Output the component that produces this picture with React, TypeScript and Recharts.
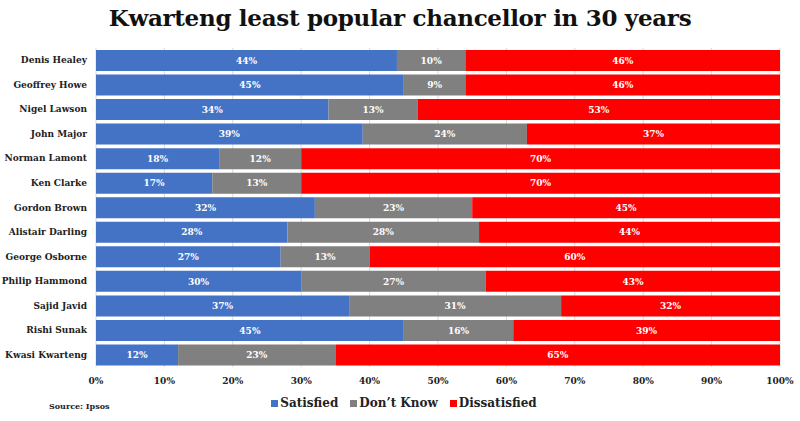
import React from 'react';
import { BarChart, Bar, XAxis, YAxis, CartesianGrid, LabelList } from 'recharts';

const chancellors = [
  'Denis Healey', 'Geoffrey Howe', 'Nigel Lawson', 'John Major', 'Norman Lamont', 'Ken Clarke',
  'Gordon Brown', 'Alistair Darling', 'George Osborne', 'Philip Hammond', 'Sajid Javid', 'Rishi Sunak', 'Kwasi Kwarteng',
];
const satisfied = [44, 45, 34, 39, 18, 17, 32, 28, 27, 30, 37, 45, 12];
const dontKnow = [10, 9, 13, 24, 12, 13, 23, 28, 13, 27, 31, 16, 23];
const dissatisfied = [46, 46, 53, 37, 70, 70, 45, 44, 60, 43, 32, 39, 65];
const xTicks = [0, 10, 20, 30, 40, 50, 60, 70, 80, 90, 100];

const data = chancellors.map((name, i) => ({
  name,
  satisfied: satisfied[i],
  dontKnow: dontKnow[i],
  dissatisfied: dissatisfied[i],
}));

const FONT = '"DejaVu Serif", serif';
const BLUE = '#4472C4';
const GRAY = '#808080';
const RED = '#FF0000';

const pct = (v: any) => `${v}%`;

const legendItems = [
  { label: 'Satisfied', color: BLUE },
  { label: "Don\u2019t Know", color: GRAY },
  { label: 'Dissatisfied', color: RED },
];

const YTick = (props: any) => {
  const { x, y, payload } = props;
  return (
    <text x={x} y={y} dy={3} textAnchor="end" fontSize={9} fontWeight="bold" fill="#222" fontFamily={FONT}>
      {payload.value}
    </text>
  );
};

const XTick = (props: any) => {
  const { x, y, payload } = props;
  return (
    <text x={x} y={y} dy={17} textAnchor="middle" fontSize={9} fontWeight="bold" fill="#222" fontFamily={FONT}>
      {pct(payload.value)}
    </text>
  );
};

export default function App() {
  return (
    <div style={{ position: 'absolute', left: 0, top: 0, width: 800, height: 421, background: '#fff', fontFamily: FONT }}>
      <div style={{ position: 'absolute', left: 0, top: 4, width: 800, textAlign: 'center', fontSize: 23, fontWeight: 'bold', color: '#111', letterSpacing: -0.3 }}>
        Kwarteng least popular chancellor in 30 years
      </div>
      <BarChart
        width={800}
        height={421}
        data={data}
        layout="vertical"
        margin={{ top: 48, right: 20, bottom: 30, left: 0 }}
        barCategoryGap={2}
      >
        <CartesianGrid horizontal={false} stroke="#d9d9d9" />
        <XAxis
          type="number"
          domain={[0, 100]}
          ticks={xTicks}
          axisLine={false}
          tickLine={false}
          tickSize={0}
          tickMargin={0}
          height={24}
          tick={<XTick />}
        />
        <YAxis
          type="category"
          dataKey="name"
          width={96}
          axisLine={false}
          tickLine={false}
          tickSize={0}
          tickMargin={9}
          tick={<YTick />}
        />
        <Bar dataKey="satisfied" stackId="a" fill={BLUE} isAnimationActive={false}>
          <LabelList dataKey="satisfied" position="center" formatter={pct} fill="#fff" fontSize={9} fontWeight="bold" fontFamily={FONT} />
        </Bar>
        <Bar dataKey="dontKnow" stackId="a" fill={GRAY} isAnimationActive={false}>
          <LabelList dataKey="dontKnow" position="center" formatter={pct} fill="#fff" fontSize={9} fontWeight="bold" fontFamily={FONT} />
        </Bar>
        <Bar dataKey="dissatisfied" stackId="a" fill={RED} isAnimationActive={false}>
          <LabelList dataKey="dissatisfied" position="center" formatter={pct} fill="#fff" fontSize={9} fontWeight="bold" fontFamily={FONT} />
        </Bar>
      </BarChart>
      <div style={{ position: 'absolute', left: 49, top: 401, fontSize: 8, fontWeight: 'bold', color: '#222' }}>Source: Ipsos</div>
      <div style={{ position: 'absolute', left: 4, top: 396, width: 800, display: 'flex', justifyContent: 'center', gap: 12, fontSize: 12, fontWeight: 'bold', color: '#222' }}>
        {legendItems.map((it) => (
          <div key={it.label} style={{ display: 'flex', alignItems: 'center' }}>
            <span style={{ display: 'inline-block', width: 7, height: 7, background: it.color, marginRight: 2 }} />
            <span>{it.label}</span>
          </div>
        ))}
      </div>
    </div>
  );
}
